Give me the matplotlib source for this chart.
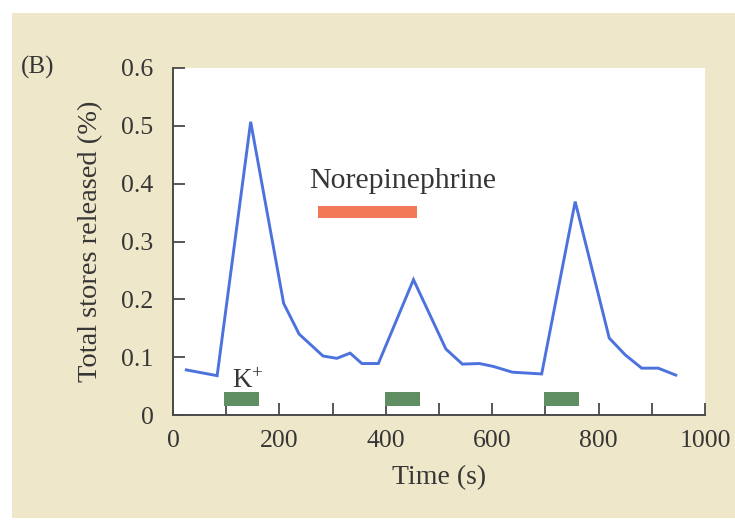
import matplotlib
matplotlib.use("Agg")
import matplotlib.pyplot as plt
from matplotlib.patches import Rectangle

# Release of stored transmitter over time
time_s = [25, 83, 146, 208, 237, 282, 308, 333, 355, 386, 452, 513, 544,
          576, 602, 638, 693, 756, 820, 850, 881, 912, 945]
released_pct = [0.078, 0.068, 0.507, 0.193, 0.140, 0.102, 0.098, 0.107, 0.089,
                0.089, 0.234, 0.114, 0.088, 0.089, 0.084, 0.074, 0.071, 0.369,
                0.133, 0.104, 0.081, 0.081, 0.069]

# Stimulus periods (s)
k_starts = [96, 399, 698]
k_duration = 66
ne_start = 273
ne_duration = 186

x_major = [0, 200, 400, 600, 800, 1000]
x_minor = [100, 300, 500, 700, 900]
y_ticks = [0, 0.1, 0.2, 0.3, 0.4, 0.5, 0.6]
y_labels = ["0", "0.1", "0.2", "0.3", "0.4", "0.5", "0.6"]

plt.rcParams["font.family"] = ["Liberation Serif", "DejaVu Serif"]
plt.rcParams["mathtext.default"] = "regular"

W, H = 735, 522
fig = plt.figure(figsize=(W / 100, H / 100), dpi=100, facecolor="white")

# cream panel behind the figure
fig.patches.append(Rectangle((12 / W, 4 / H), 1 - 12 / W, (H - 17) / H,
                             transform=fig.transFigure, facecolor="#EFE7C9",
                             edgecolor="none", zorder=-10))

ax = fig.add_axes([173 / W, (H - 415) / H, (705 - 173) / W, (415 - 68) / H])
ax.set_facecolor("white")

text_c = "#363636"
axis_c = "#4a4a4a"

ax.plot(time_s, released_pct, color="#4C72DE", lw=2.1, solid_joinstyle="miter",
        zorder=3)

for s in k_starts:
    ax.add_patch(Rectangle((s, 0.015), k_duration, 0.024, facecolor="#5E8E62",
                           edgecolor="none", zorder=2))
ax.add_patch(Rectangle((ne_start, 0.341), ne_duration, 0.021,
                       facecolor="#F27858", edgecolor="none", zorder=2))

ax.text(255, 0.393, "Norepinephrine", fontsize=21.5, color=text_c,
        ha="left", va="baseline")
ax.text(111, 0.047, "K$^{+}$", fontsize=19.5, color=text_c,
        ha="left", va="baseline")

ax.set_xlim(0, 1000)
ax.set_ylim(0, 0.6)
ax.set_xticks(x_major)
ax.set_xticks(x_minor, minor=True)
ax.set_yticks(y_ticks)
ax.set_yticklabels(y_labels)

for side in ("top", "right"):
    ax.spines[side].set_visible(False)
for side in ("left", "bottom"):
    ax.spines[side].set_color(axis_c)
    ax.spines[side].set_linewidth(1.4)

ax.tick_params(axis="both", which="both", direction="in", length=8.5,
               width=1.3, color=axis_c, labelcolor=text_c, labelsize=18.5)
ax.tick_params(axis="x", which="both", pad=11)
ax.tick_params(axis="y", pad=14)

ax.set_xlabel("Time (s)", fontsize=20, color=text_c, labelpad=9)
ax.set_ylabel("Total stores released (%)", fontsize=20.5, color=text_c,
              labelpad=13)

fig.text(38 / W, 1 - 67 / H, "(B)", fontsize=18, color=text_c,
         ha="center", va="center")

fig.savefig("out.png", dpi=100, facecolor=fig.get_facecolor())
